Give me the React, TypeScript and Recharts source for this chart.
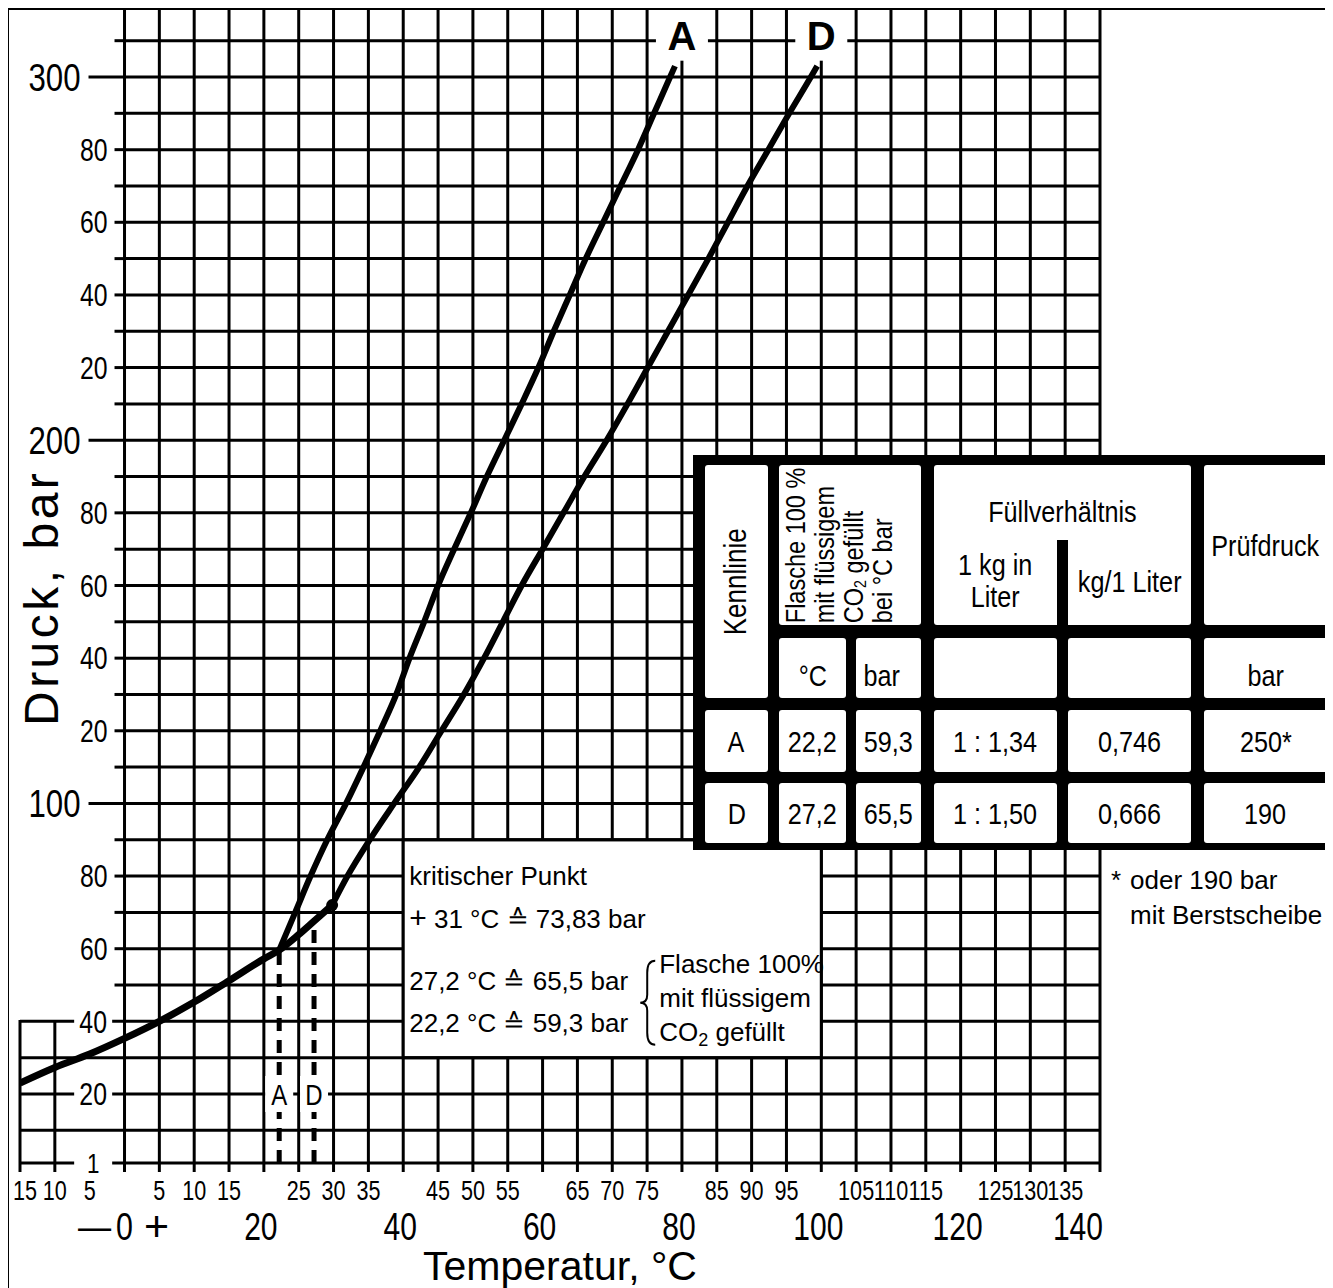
import React from "react";
import {
  ComposedChart,
  Line,
  XAxis,
  YAxis,
  CartesianGrid,
  ReferenceArea,
  ReferenceLine,
  ReferenceDot,
} from "recharts";

const SANS = "'Liberation Sans', Arial, Helvetica, sans-serif";

// Dampfdruckkurve bis zum kritischen Punkt
const satTemps = [-15, -10, -5, 0, 5, 10, 15, 20, 22.2, 25, 27.2, 29.8];
const satPressures = [23, 27.3, 31, 35.3, 40, 45.3, 51.2, 57.2, 59.6, 63.9, 67.6, 72];

// Kennlinie A
const aTemps = [22.2, 24.5, 26.7, 29.1, 31.8, 34.3, 36.7, 39.0, 40.9, 43.0, 45.0, 47.3, 49.7, 52.0, 54.5, 57.0, 59.4, 61.6, 63.9, 66.2, 68.7, 71.2, 73.7, 76.0, 78.3, 79.0];
const aPressures = [59.6, 70, 80, 90, 100, 110, 120, 130, 140, 150, 160, 170, 180, 190, 200, 210, 220, 230, 240, 250, 260, 270, 280, 290, 300, 303];

// Kennlinie D
const dTemps = [29.8, 32.0, 35.2, 38.7, 42.3, 45.5, 48.7, 51.6, 54.3, 57.0, 60.0, 63.0, 66.0, 69.2, 72.2, 75.1, 78.0, 80.9, 83.8, 86.6, 89.4, 92.4, 95.4, 98.5, 99.4];
const dPressures = [72, 80, 90, 100, 110, 120, 130, 140, 150, 160, 170, 180, 190, 200, 210, 220, 230, 240, 250, 260, 270, 280, 290, 300, 303];

// Füllpunkte (gestrichelte Senkrechten) und kritischer Punkt
const fillCurves = ["A", "D"];
const fillTemps = [22.2, 27.2];
const fillPressures = [59.3, 65.5];
const critTemp = 29.8;
const critPressure = 72;

// Achsen
const tempTicks = [-15, -10, -5, 0, 5, 10, 15, 20, 25, 30, 35, 40, 45, 50, 55, 60, 65, 70, 75, 80, 85, 90, 95, 100, 105, 110, 115, 120, 125, 130, 135, 140];
const tempTickLabels = ["15", "10", "5", "", "5", "10", "15", "", "25", "30", "35", "", "45", "50", "55", "", "65", "70", "75", "", "85", "90", "95", "", "105", "110", "115", "", "125", "130", "135", ""];
const bigTemps = [0, 20, 40, 60, 80, 100, 120, 140];
const bigTempLabels = ["—0+", "20", "40", "60", "80", "100", "120", "140"];
const gridTemps = [-15, -10, 0, 5, 10, 15, 20, 25, 30, 35, 40, 45, 50, 55, 60, 65, 70, 75, 80, 85, 90, 95, 100, 105, 110, 115, 120, 125, 130, 135, 140];
const gridPressures = [10, 20, 30, 40, 50, 60, 70, 80, 90, 100, 110, 120, 130, 140, 150, 160, 170, 180, 190, 200, 210, 220, 230, 240, 250, 260, 270, 280, 290, 300, 310];
const pressureStubs = [310, 300, 290, 280, 270, 260, 250, 240, 230, 220, 210, 200, 190, 180, 170, 160, 150, 140, 130, 120, 110, 100, 90, 80, 70, 60, 50];
const pressureStubLabels = ["", "300", "", "80", "", "60", "", "40", "", "20", "", "200", "", "80", "", "60", "", "40", "", "20", "", "100", "", "80", "", "60", ""];
const majorPressures = [300, 200, 100];
const lowerPressures = [40, 20, 1];
const lowerPressureLabels = ["40", "20", "1"];

// Tabelle
const tblCurve = ["A", "D"];
const tblTemp = ["22,2", "27,2"];
const tblPressure = ["59,3", "65,5"];
const tblLiter = ["1 : 1,34", "1 : 1,50"];
const tblKg = ["0,746", "0,666"];
const tblTest = ["250*", "190"];

const stroke = "#000";
const GRID_W = 3;

// schmale Schrift: Liberation Sans horizontal gestaucht
const NText = ({ x, y, size, squeeze = 0.8, anchor = "middle", dy, children }: any) => (
  <text
    transform={`translate(${x} ${y}) scale(${squeeze} 1)`}
    textAnchor={anchor}
    dy={dy}
    fontFamily={SANS}
    fontSize={size}
    fill="#000"
  >
    {children}
  </text>
);

const Narrow = ({ children, s = 0.84 }: any) => (
  <span style={{ display: "inline-block", transform: `scaleX(${s})`, whiteSpace: "nowrap" }}>{children}</span>
);

const SmallTick = (props: any) => {
  const { x, y, payload } = props;
  const label = tempTickLabels[tempTicks.indexOf(payload.value)] ?? "";
  const first = payload.value === tempTicks[0];
  return <NText x={first ? x + 5 : x} y={y + 28} size={27} squeeze={0.8}>{label}</NText>;
};

const BigTick = (props: any) => {
  const { x, y, payload } = props;
  const label = bigTempLabels[bigTemps.indexOf(payload.value)] ?? "";
  if (payload.value === 0) {
    return (
      <g>
        <NText x={x - 30} y={y + 32} size={39} squeeze={0.85}>—</NText>
        <NText x={x} y={y + 32} size={39} squeeze={0.78}>0</NText>
        <NText x={x + 32} y={y + 33} size={43} squeeze={1}>+</NText>
      </g>
    );
  }
  const last = payload.value === 140;
  return (
    <NText x={last ? x + 3 : x - 3} y={y + 32} size={39} squeeze={0.77} anchor={last ? "end" : "middle"}>
      {label}
    </NText>
  );
};

export default function App() {
  const satData = satTemps.map((t, i) => ({ t, p: satPressures[i] }));
  const aData = aTemps.map((t, i) => ({ t, p: aPressures[i] }));
  const dData = dTemps.map((t, i) => ({ t, p: dPressures[i] }));

  // horizontale Gitterlinien, ausgespart: leeres Feld oben links und Textfeld
  const hSegments: { p: number; x0: number; x1: number }[] = [];
  gridPressures.forEach((p) => {
    const start = p <= 40 ? -15 : 0;
    if (p > 30 && p < 90) {
      hSegments.push({ p, x0: start, x1: 40 });
      hSegments.push({ p, x0: 100, x1: 140 });
    } else {
      hSegments.push({ p, x0: start, x1: 140 });
    }
  });

  const cell = (x0: number, x1: number, y0: number, y1: number, style: React.CSSProperties = {}) => ({
    position: "absolute" as const,
    left: x0,
    top: y0,
    width: x1 - x0,
    height: y1 - y0,
    background: "#fff",
    borderRadius: 3,
    display: "flex",
    alignItems: "center",
    justifyContent: "center",
    fontFamily: SANS,
    fontSize: 30,
    color: "#000",
    lineHeight: 1.1,
    textAlign: "center" as const,
    boxSizing: "border-box" as const,
    ...style,
  });
  const C = { k: [12, 75], c: [86, 153], b: [163, 228], l: [241, 364], g: [375, 498], p: [511, 634] };
  const R = { h: [10, 170], u: [183, 243], a: [255, 317], d: [328, 388] };
  const rowKeys: ("a" | "d")[] = ["a", "d"];

  return (
    <div style={{ position: "relative", width: 1325, height: 1280, background: "#fff" }}>
      <ComposedChart width={1325} height={1280} margin={{ top: 0, right: 233, bottom: 0, left: 12 }}>
        <CartesianGrid stroke={stroke} strokeWidth={GRID_W} horizontal={false} verticalValues={gridTemps} />
        <XAxis
          type="number"
          dataKey="t"
          domain={[-15, 140]}
          ticks={tempTicks}
          interval={0}
          allowDataOverflow
          height={45}
          tickSize={9}
          tickMargin={0}
          axisLine={{ stroke, strokeWidth: GRID_W }}
          tickLine={{ stroke, strokeWidth: GRID_W }}
          tick={<SmallTick />}
        />
        <XAxis
          xAxisId="big"
          type="number"
          dataKey="t"
          domain={[-15, 140]}
          ticks={bigTemps}
          interval={0}
          allowDataOverflow
          height={80}
          tickSize={0}
          tickMargin={0}
          axisLine={false}
          tickLine={false}
          tick={<BigTick />}
          label={{
            value: "Temperatur, °C",
            position: "insideBottom",
            offset: 8,
            fill: "#000",
            fontSize: 41,
            fontFamily: SANS,
          }}
        />
        <YAxis type="number" domain={[1, 319]} allowDataOverflow width={0} tick={false} axisLine={false} tickLine={false} />

        {hSegments.map((s, i) => (
          <ReferenceLine
            key={"h" + i}
            segment={[{ x: s.x0, y: s.p }, { x: s.x1, y: s.p }]}
            stroke={stroke}
            strokeWidth={GRID_W}
          />
        ))}

        {/* leere Flächen */}
        <ReferenceArea x1={-17} x2={-0.25} y1={40.4} y2={319} ifOverflow="visible" fill="#fff" fillOpacity={1} stroke="none" zIndex={50} />
        <ReferenceArea x1={40} x2={100} y1={30} y2={90} fill="#fff" fillOpacity={1} stroke={stroke} strokeWidth={GRID_W} zIndex={50} />

        {fillTemps.map((t, i) => (
          <ReferenceLine
            key={"fill" + i}
            segment={[{ x: t, y: 1 }, { x: t, y: fillPressures[i] }]}
            stroke={stroke}
            strokeWidth={5}
            strokeDasharray="13 9"
          />
        ))}

        <Line data={satData} dataKey="p" type="monotone" stroke={stroke} strokeWidth={7} dot={false} isAnimationActive={false} />
        <Line data={aData} dataKey="p" type="monotone" stroke={stroke} strokeWidth={6} dot={false} isAnimationActive={false} />
        <Line data={dData} dataKey="p" type="monotone" stroke={stroke} strokeWidth={6} dot={false} isAnimationActive={false} />

        <ReferenceDot x={critTemp} y={critPressure} r={6} fill={stroke} stroke="none" zIndex={1500} />

        {/* Druckskala */}
        {pressureStubs.map((p, i) => {
          const major = majorPressures.includes(p);
          const txt = pressureStubLabels[i];
          return (
            <ReferenceDot
              key={"ps" + p}
              x={0}
              y={p}
              r={1}
              zIndex={1500}
              shape={(s: any) => (
                <g>
                  <line x1={s.cx - (major ? 36 : 10)} x2={s.cx} y1={s.cy} y2={s.cy} stroke={stroke} strokeWidth={GRID_W} />
                  {txt && (
                    <NText x={s.cx - (major ? 44 : 17)} y={s.cy} dy="0.36em" anchor="end" size={major ? 39 : 31} squeeze={0.8}>
                      {txt}
                    </NText>
                  )}
                </g>
              )}
            />
          );
        })}
        {lowerPressures.map((p, i) => (
          <ReferenceDot
            key={"lp" + p}
            x={-4.5}
            y={p}
            r={1}
            zIndex={1500}
            shape={(s: any) => {
              const h = p === 1 ? 26 : 36;
              return (
                <g>
                  <rect x={s.cx - 19} y={s.cy - h / 2} width={38} height={h} fill="#fff" />
                  <NText x={s.cx} y={s.cy} dy="0.36em" size={p === 1 ? 28 : 31} squeeze={0.8}>
                    {lowerPressureLabels[i]}
                  </NText>
                </g>
              );
            }}
          />
        ))}

        {/* Kennlinien-Beschriftung */}
        {fillCurves.map((c, i) => (
          <ReferenceDot
            key={"top" + c}
            x={i === 0 ? 80 : 100}
            y={310}
            r={1}
            zIndex={1500}
            shape={(s: any) => (
              <g>
                <rect x={s.cx - 26} y={s.cy - 34} width={52} height={54} fill="#fff" />
                <text x={s.cx} y={s.cy + 9} textAnchor="middle" fontFamily={SANS} fontWeight="bold" fontSize={40} fill="#000">
                  {c}
                </text>
              </g>
            )}
          />
        ))}
        {fillCurves.map((c, i) => (
          <ReferenceDot
            key={"bot" + c}
            x={fillTemps[i]}
            y={20}
            r={1}
            zIndex={1500}
            shape={(s: any) => (
              <g>
                <rect x={s.cx - 14} y={s.cy - 18} width={28} height={36} fill="#fff" />
                <NText x={s.cx} y={s.cy} dy="0.36em" size={30} squeeze={0.8}>
                  {c}
                </NText>
              </g>
            )}
          />
        ))}

        {/* Achsentitel Druck */}
        <ReferenceDot
          x={-15}
          y={156.6}
          r={1}
          zIndex={1500}
          shape={(s: any) => (
            <text
              x={s.cx + 22}
              y={s.cy}
              transform={`rotate(-90 ${s.cx + 22} ${s.cy})`}
              textAnchor="middle"
              dominantBaseline="central"
              fontFamily={SANS}
              fontSize={48}
              letterSpacing={3.5}
              fill="#000"
            >
              Druck, bar
            </text>
          )}
        />

        {/* Textfeld kritischer Punkt */}
        <ReferenceDot
          x={40}
          y={90}
          r={1}
          zIndex={1500}
          shape={(s: any) => {
            const x = s.cx + 6;
            const y = s.cy;
            const bx = s.cx + 244;
            return (
              <g fontFamily={SANS} fontSize={26} fill="#000">
                <text x={x} y={y + 45}>kritischer Punkt</text>
                <text x={x} y={y + 88}>
                  <tspan fontSize={30}>+</tspan> 31 °C ≙ 73,83 bar
                </text>
                <text x={x} y={y + 150}>27,2 °C ≙ 65,5 bar</text>
                <text x={x} y={y + 192}>22,2 °C ≙ 59,3 bar</text>
                <path
                  d={`M ${bx + 8} ${y + 121} Q ${bx} ${y + 121} ${bx} ${y + 133} L ${bx} ${y + 155} Q ${bx} ${y + 163} ${bx - 7} ${y + 163} Q ${bx} ${y + 163} ${bx} ${y + 171} L ${bx} ${y + 193} Q ${bx} ${y + 205} ${bx + 8} ${y + 205}`}
                  fill="none"
                  stroke={stroke}
                  strokeWidth={2}
                />
                <text x={s.cx + 256} y={y + 133}>Flasche 100%</text>
                <text x={s.cx + 256} y={y + 167}>mit flüssigem</text>
                <text x={s.cx + 256} y={y + 201}>
                  CO<tspan fontSize={18} dy={5}>2</tspan>
                  <tspan dy={-5}> gefüllt</tspan>
                </text>
              </g>
            );
          }}
        />

        {/* Fußnote */}
        <ReferenceDot
          x={140}
          y={80}
          r={1}
          zIndex={1500}
          shape={(s: any) => (
            <g fontFamily={SANS} fontSize={26} fill="#000">
              <text x={s.cx + 11} y={s.cy + 13}>*</text>
              <text x={s.cx + 30} y={s.cy + 13}>oder 190 bar</text>
              <text x={s.cx + 30} y={s.cy + 48}>mit Berstscheibe</text>
            </g>
          )}
        />
      </ComposedChart>

      {/* Tabelle */}
      <div style={{ position: "absolute", left: 685, top: 447, width: 640, height: 395, background: "#000" }}>
        <div style={cell(C.k[0], C.k[1], R.h[0], R.u[1])}>
          <div style={{ writingMode: "vertical-rl", transform: "rotate(180deg) scaleY(0.84)", fontSize: 31, whiteSpace: "nowrap" }}>
            Kennlinie
          </div>
        </div>
        <div style={cell(C.c[0], C.b[1], R.h[0], R.h[1])}>
          <div
            style={{
              position: "absolute",
              left: 2,
              top: 0,
              width: 124,
              height: 172,
              writingMode: "vertical-rl",
              transform: "rotate(180deg) scaleY(0.84)",
              fontSize: 28,
              lineHeight: "29px",
              textAlign: "start",
              whiteSpace: "nowrap",
            }}
          >
            Flasche 100 %<br />mit flüssigem<br />CO<sub style={{ fontSize: 17, lineHeight: 0 }}>2</sub> gefüllt<br />bei °C bar
          </div>
        </div>
        <div style={cell(C.l[0], C.g[1], R.h[0], R.h[1], { alignItems: "flex-start" })}>
          <div style={{ position: "absolute", top: 30, left: 0, right: 0, textAlign: "center" }}>
            <Narrow>Füllverhältnis</Narrow>
          </div>
          <div style={{ position: "absolute", top: 75, left: C.l[1] - C.l[0], width: C.g[0] - C.l[1], bottom: 0, background: "#000" }} />
          <div style={{ position: "absolute", top: 84, left: 0, width: C.l[1] - C.l[0], textAlign: "center", lineHeight: "32px" }}>
            <Narrow>1 kg in</Narrow>
            <br />
            <Narrow>Liter</Narrow>
          </div>
          <div style={{ position: "absolute", top: 100, left: C.g[0] - C.l[0], width: C.g[1] - C.g[0], textAlign: "center" }}>
            <Narrow>kg/1 Liter</Narrow>
          </div>
        </div>
        <div style={cell(C.p[0], C.p[1], R.h[0], R.h[1])}>
          <Narrow>Prüfdruck</Narrow>
        </div>

        <div style={cell(C.c[0], C.c[1], R.u[0], R.u[1], { paddingTop: 14 })}>
          <Narrow>°C</Narrow>
        </div>
        <div style={cell(C.b[0], C.b[1], R.u[0], R.u[1], { paddingTop: 14, justifyContent: "flex-start", paddingLeft: 4 })}>
          <Narrow>bar</Narrow>
        </div>
        <div style={cell(C.l[0], C.l[1], R.u[0], R.u[1])} />
        <div style={cell(C.g[0], C.g[1], R.u[0], R.u[1])} />
        <div style={cell(C.p[0], C.p[1], R.u[0], R.u[1], { paddingTop: 14 })}>
          <Narrow>bar</Narrow>
        </div>

        {rowKeys.map((rk, i) => (
          <React.Fragment key={rk}>
            <div style={cell(C.k[0], C.k[1], R[rk][0], R[rk][1])}>
              <Narrow>{tblCurve[i]}</Narrow>
            </div>
            <div style={cell(C.c[0], C.c[1], R[rk][0], R[rk][1])}>
              <Narrow>{tblTemp[i]}</Narrow>
            </div>
            <div style={cell(C.b[0], C.b[1], R[rk][0], R[rk][1])}>
              <Narrow>{tblPressure[i]}</Narrow>
            </div>
            <div style={cell(C.l[0], C.l[1], R[rk][0], R[rk][1])}>
              <Narrow>{tblLiter[i]}</Narrow>
            </div>
            <div style={cell(C.g[0], C.g[1], R[rk][0], R[rk][1])}>
              <Narrow>{tblKg[i]}</Narrow>
            </div>
            <div style={cell(C.p[0], C.p[1], R[rk][0], R[rk][1])}>
              <Narrow>{tblTest[i]}</Narrow>
            </div>
          </React.Fragment>
        ))}
      </div>

      {/* Rahmen (unten offen) */}
      <div
        style={{
          position: "absolute",
          left: -1,
          top: 0,
          width: 1318,
          height: 1290,
          borderTop: "2px solid #000",
          borderLeft: "2px solid #000",
          borderRight: "2px solid #000",
          pointerEvents: "none",
        }}
      />
    </div>
  );
}
